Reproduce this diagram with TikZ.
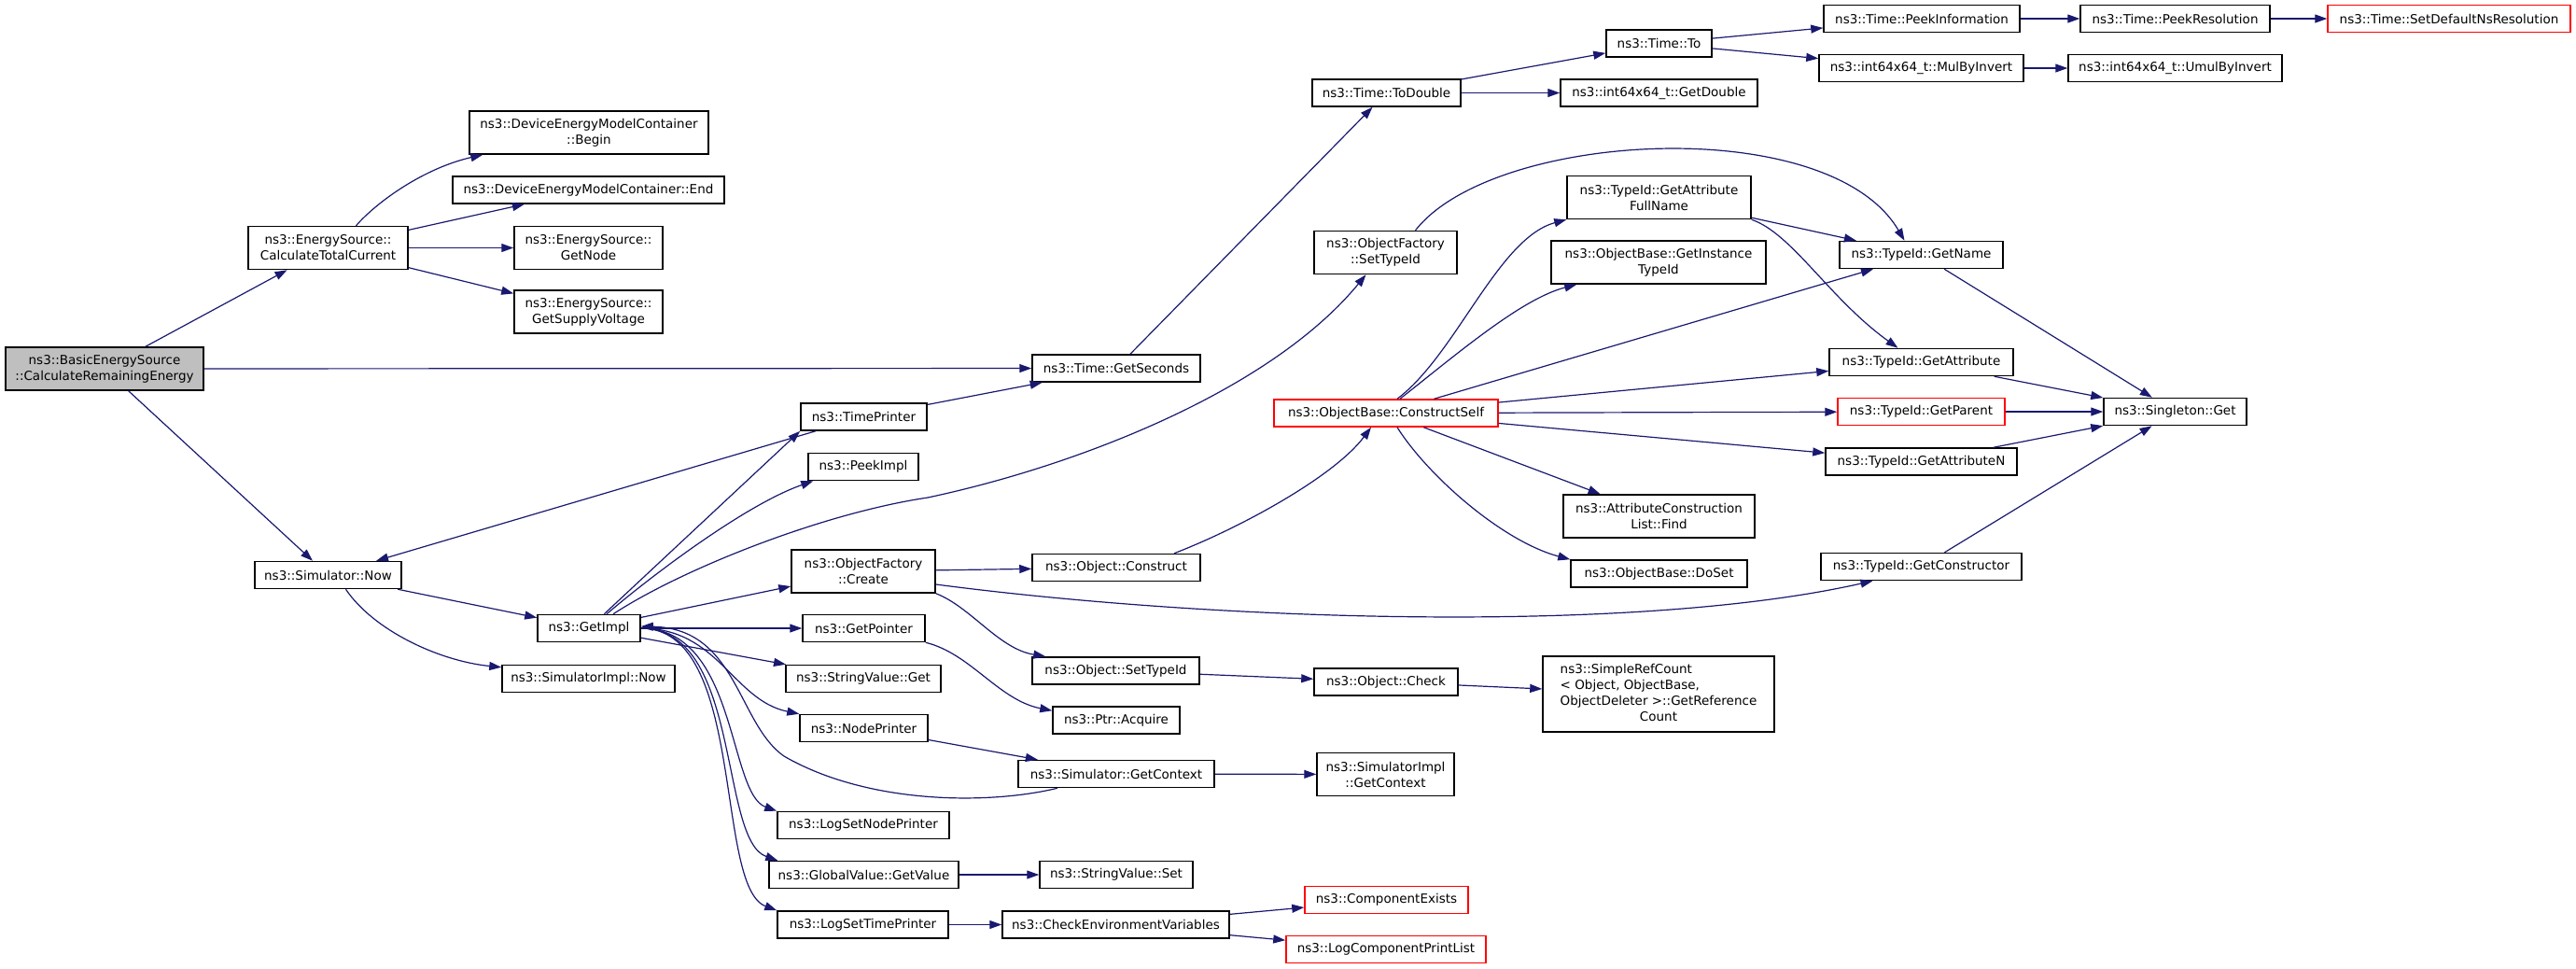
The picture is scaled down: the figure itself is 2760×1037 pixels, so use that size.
\documentclass[tikz,border=0pt]{standalone}
\usepackage{fontspec}
\setmainfont{DejaVu Sans}
\usetikzlibrary{arrows.meta}
\definecolor{callblue}{HTML}{191970}
\definecolor{rootgray}{HTML}{BFBFBF}
\begin{document}
\begin{tikzpicture}[x=1pt,y=-1pt]
        \tikzstyle{fn}= [draw=black,fill=white,line width=1.5pt,minimum height=29,inner sep=0pt,align=center,font=\fontsize{13.5}{17}\selectfont];
        \tikzstyle{fnroot}= [fn,fill=rootgray];
        \tikzstyle{fncut}= [fn,draw=red];
        \tikzstyle{call}= [draw=callblue,line width=1.2pt,-{Triangle[length=13pt,width=9pt]}];
          \useasboundingbox (0,0) rectangle (2760,1037);

          % column 1 and 2
          \node(Basic)[fnroot,minimum width=212,minimum height=46] at (112,395) {ns3::BasicEnergySource\\::CalculateRemainingEnergy};
          \node(CTC)[fn,minimum width=171,minimum height=46] at (351.5,265.5) {ns3::EnergySource::\\CalculateTotalCurrent};
          \node(Now)[fn,minimum width=157] at (351.5,616) {ns3::Simulator::Now};

          % column 3
          \node(Begin)[fn,minimum width=256,minimum height=46] at (631,142) {ns3::DeviceEnergyModelContainer\\::Begin};
          \node(End)[fn,minimum width=291] at (630.5,203.5) {ns3::DeviceEnergyModelContainer::End};
          \node(GetNode)[fn,minimum width=159,minimum height=46] at (630.5,265.5) {ns3::EnergySource::\\GetNode};
          \node(GetSupplyVoltage)[fn,minimum width=159,minimum height=46] at (630.5,334) {ns3::EnergySource::\\GetSupplyVoltage};
          \node(GetImpl)[fn,minimum width=110] at (631,673) {ns3::GetImpl};
          \node(SimImplNow)[fn,minimum width=185] at (630.5,727) {ns3::SimulatorImpl::Now};

          % column 4
          \node(TimePrinter)[fn,minimum width=135] at (925.5,446.5) {ns3::TimePrinter};
          \node(PeekImpl)[fn,minimum width=118] at (925,500) {ns3::PeekImpl};
          \node(Create)[fn,minimum width=154,minimum height=46] at (925,612) {ns3::ObjectFactory\\::Create};
          \node(GetPointer)[fn,minimum width=131] at (925.5,673) {ns3::GetPointer};
          \node(StringValueGet)[fn,minimum width=166] at (925,727) {ns3::StringValue::Get};
          \node(NodePrinter)[fn,minimum width=137] at (925.5,780) {ns3::NodePrinter};
          \node(LogSetNodePrinter)[fn,minimum width=184] at (925,884) {ns3::LogSetNodePrinter};
          \node(GlobalGetValue)[fn,minimum width=203] at (925.5,937) {ns3::GlobalValue::GetValue};
          \node(LogSetTimePrinter)[fn,minimum width=183] at (924.5,990.5) {ns3::LogSetTimePrinter};

          % column 5
          \node(GetSeconds)[fn,minimum width=180] at (1196,394.5) {ns3::Time::GetSeconds};
          \node(Construct)[fn,minimum width=180] at (1196,608) {ns3::Object::Construct};
          \node(ObjSetTypeId)[fn,minimum width=179] at (1195.5,718.5) {ns3::Object::SetTypeId};
          \node(Acquire)[fn,minimum width=136] at (1196,771.5) {ns3::Ptr::Acquire};
          \node(GetContext)[fn,minimum width=210] at (1196,829) {ns3::Simulator::GetContext};
          \node(StringValueSet)[fn,minimum width=164] at (1196,937) {ns3::StringValue::Set};
          \node(CheckEnv)[fn,minimum width=243] at (1195.5,990.5) {ns3::CheckEnvironmentVariables};

          % column 6
          \node(ToDouble)[fn,minimum width=159] at (1485.5,99.5) {ns3::Time::ToDouble};
          \node(FactorySetTypeId)[fn,minimum width=153,minimum height=46] at (1484.5,270.5) {ns3::ObjectFactory\\::SetTypeId};
          \node(ConstructSelf)[fncut,minimum width=240] at (1485,442.5) {ns3::ObjectBase::ConstructSelf};
          \node(Check)[fn,minimum width=154] at (1485,730.5) {ns3::Object::Check};
          \node(SimImplGetContext)[fn,minimum width=147,minimum height=46] at (1484.5,829.5) {ns3::SimulatorImpl\\::GetContext};
          \node(ComponentExists)[fncut,minimum width=175] at (1485.5,964) {ns3::ComponentExists};
          \node(LogComponentPrintList)[fncut,minimum width=214] at (1485,1017) {ns3::LogComponentPrintList};

          % column 7
          \node(TimeTo)[fn,minimum width=113] at (1777.5,46.5) {ns3::Time::To};
          \node(GetDouble)[fn,minimum width=211] at (1777.5,99.5) {ns3::int64x64\_t::GetDouble};
          \node(GetAttributeFullName)[fn,minimum width=197,minimum height=46] at (1777.5,211.5) {ns3::TypeId::GetAttribute\\FullName};
          \node(GetInstanceTypeId)[fn,minimum width=230,minimum height=46] at (1777,281) {ns3::ObjectBase::GetInstance\\TypeId};
          \node(Find)[fn,minimum width=205,minimum height=46] at (1777.5,553) {ns3::AttributeConstruction\\List::Find};
          \node(DoSet)[fn,minimum width=189] at (1777.5,614.5) {ns3::ObjectBase::DoSet};
          \node(SimpleRefCount)[fn,minimum width=248,minimum height=81] at (1777,743.5) {\begin{tabular}{@{}l@{}}ns3::SimpleRefCount\\< Object, ObjectBase,\\\multicolumn{1}{@{}c@{}}{ObjectDeleter >::GetReference}\\\multicolumn{1}{@{}c@{}}{Count}\end{tabular}};

          % column 8 and 9
          \node(PeekInformation)[fn,minimum width=210] at (2059,20) {ns3::Time::PeekInformation};
          \node(MulByInvert)[fn,minimum width=219] at (2058.5,73) {ns3::int64x64\_t::MulByInvert};
          \node(GetName)[fn,minimum width=175] at (2058.5,273) {ns3::TypeId::GetName};
          \node(GetAttribute)[fn,minimum width=197] at (2058.5,388) {ns3::TypeId::GetAttribute};
          \node(GetParent)[fncut,minimum width=179] at (2058.5,441) {ns3::TypeId::GetParent};
          \node(GetAttributeN)[fn,minimum width=205] at (2058.5,494.5) {ns3::TypeId::GetAttributeN};
          \node(GetConstructor)[fn,minimum width=215] at (2058.5,607) {ns3::TypeId::GetConstructor};
          \node(PeekResolution)[fn,minimum width=203] at (2330.5,20) {ns3::Time::PeekResolution};
          \node(UmulByInvert)[fn,minimum width=229] at (2330.5,73) {ns3::int64x64\_t::UmulByInvert};
          \node(Singleton)[fn,minimum width=153] at (2330.5,441) {ns3::Singleton::Get};
          \node(SetDefaultNsResolution)[fncut,minimum width=260] at (2624,20) {ns3::Time::SetDefaultNsResolution};

          % straight calls
          \foreach \a/\b in {Basic/CTC,Basic/GetSeconds,Basic/Now,CTC/End,CTC/GetNode,CTC/GetSupplyVoltage,
            GetSeconds/ToDouble,ToDouble/TimeTo,ToDouble/GetDouble,TimeTo/PeekInformation,TimeTo/MulByInvert,
            PeekInformation/PeekResolution,PeekResolution/SetDefaultNsResolution,MulByInvert/UmulByInvert,
            ConstructSelf/GetName,ConstructSelf/GetAttribute,ConstructSelf/GetParent,ConstructSelf/GetAttributeN,
            ConstructSelf/Find,GetAttributeFullName/GetName,GetName/Singleton,GetAttribute/Singleton,
            GetParent/Singleton,GetAttributeN/Singleton,GetConstructor/Singleton,TimePrinter/Now,
            TimePrinter/GetSeconds,Now/GetImpl,GetImpl/TimePrinter.south west,GetImpl/Create,GetImpl/GetPointer,
            GetImpl/StringValueGet,Create/Construct,NodePrinter/GetContext,GetContext/SimImplGetContext,
            ObjSetTypeId/Check,Check/SimpleRefCount,GlobalGetValue/StringValueSet,LogSetTimePrinter/CheckEnv,
            CheckEnv/ComponentExists,CheckEnv/LogComponentPrintList}{
            \draw[call] (\a) -- (\b);
          }

          % curved calls
          \draw[call] ([xshift=30pt]CTC.north) .. controls (405,215) and (455,180) .. ([xshift=15pt]Begin.south west);
          \draw[call] ([xshift=19pt]Now.south) .. controls (400,675) and (470,708) .. ([yshift=-3pt]SimImplNow.north west);
          \draw[call] ([xshift=19pt]GetImpl.north) .. controls (700,615) and (800,540) .. ([xshift=6pt]PeekImpl.south west);
          \draw[call] ([xshift=26pt]GetImpl.north) .. controls (730,610) and (880,550) .. (994,533)
            .. controls (1150,500) and (1360,420) .. ([xshift=-21pt]FactorySetTypeId.south);
          \draw[call] (GetImpl.east) .. controls (770,673) and (785,750) .. (NodePrinter.north west);
          \draw[call] (GetImpl.east) .. controls (790,673) and (780,850) .. (LogSetNodePrinter.north west);
          \draw[call] (GetImpl.east) .. controls (795,673) and (770,900) .. ([xshift=10pt]GlobalGetValue.north west);
          \draw[call] (GetImpl.east) .. controls (800,673) and (765,950) .. (LogSetTimePrinter.north west);
          \draw[call] ([xshift=-63pt]GetContext.south) .. controls (1060,862) and (930,862) .. (840,810)
            .. controls (790,775) and (790,673) .. ([yshift=2pt]GetImpl.east);
          \draw[call] (Create.south east) .. controls (1040,650) and (1070,695) .. ([xshift=15pt]ObjSetTypeId.north west);
          \draw[call] ([yshift=-14pt]Create.east) .. controls (1300,665) and (1750,680) .. ([xshift=-52pt]GetConstructor.south);
          \draw[call] (GetPointer.south east) .. controls (1040,700) and (1070,750) .. ([yshift=-5pt]Acquire.north west);
          \draw[call] ([xshift=62pt]Construct.north) .. controls (1330,565) and (1430,510) .. ([xshift=-16pt]ConstructSelf.south);
          \draw[call] ([xshift=32pt]FactorySetTypeId.north) .. controls (1600,140) and (1960,120) .. ([xshift=-18pt]GetName.north);
          \draw[call] ([xshift=12pt]ConstructSelf.north) .. controls (1560,380) and (1605,255) .. (GetAttributeFullName.south west);
          \draw[call] ([xshift=15pt]ConstructSelf.north) .. controls (1560,380) and (1630,320) .. ([xshift=28pt]GetInstanceTypeId.south west);
          \draw[call] ([xshift=12pt]ConstructSelf.south) .. controls (1530,510) and (1610,580) .. (DoSet.north west);
          \draw[call] (GetAttributeFullName.south east) .. controls (1920,250) and (1960,320) .. ([xshift=-25pt]GetAttribute.north);
      \end{tikzpicture}
\end{document}
